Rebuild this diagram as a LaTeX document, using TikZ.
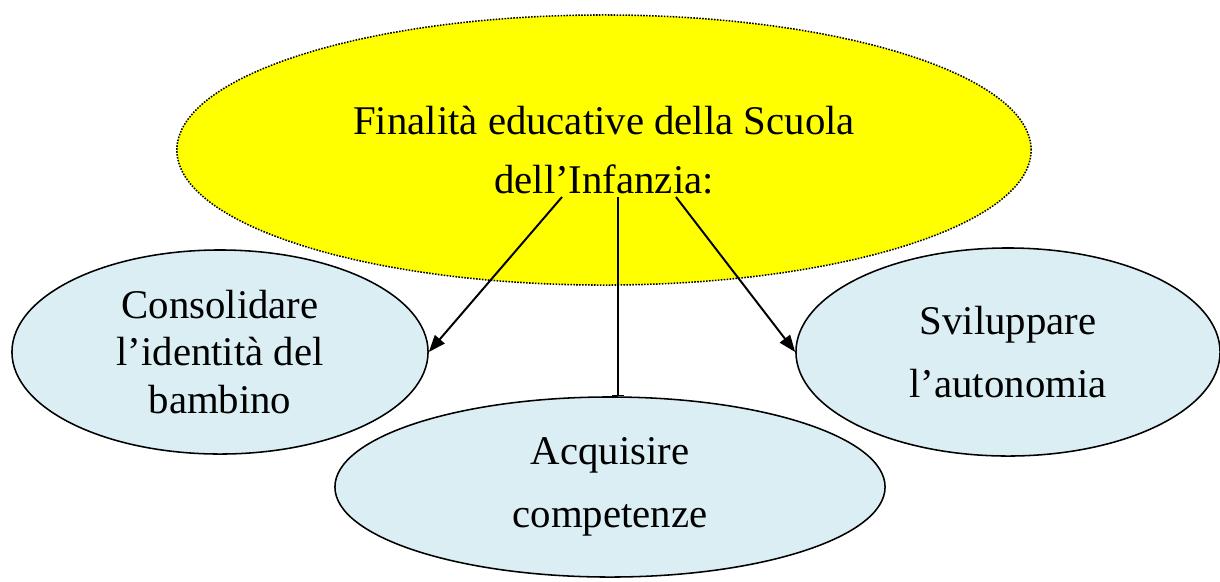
\documentclass[tikz,border=0pt]{standalone}
\usepackage{fontspec}
\setmainfont{Liberation Serif}
\usetikzlibrary{shapes.geometric,arrows.meta}

\definecolor{paleblue}{HTML}{DAEEF3}
\definecolor{goalyellow}{HTML}{FFFF00}
\tikzset{
  bubble/.style={ellipse, draw, line width=1.1pt, fill=paleblue, inner sep=0pt, align=center,
                 font=\fontsize{29}{33.5}\selectfont},
  goal/.style={ellipse, draw, densely dotted, line width=1.1pt, fill=goalyellow, inner sep=0pt,
               align=center, font=\fontsize{29}{33.5}\selectfont},
  link/.style={line width=1.4pt}
}

\begin{document}
\begin{tikzpicture}[x=0.025cm,y=-0.025cm]
   \useasboundingbox (0,0) rectangle (1220,581);
   \node[goal, minimum width=21.35cm, minimum height=6.75cm] (fin) at (604,150)
        {Finalità educative della Scuola\\[9pt] dell’Infanzia:};
   \node[bubble, minimum width=10.4cm, minimum height=5.1cm] (cons) at (220,352)
        {Consolidare\\ l’identità del\\ bambino};
   \node[bubble, minimum width=10.6cm, minimum height=5.2cm] (svil) at (1008,352)
        {Sviluppare\\[11pt] l’autonomia};
   \node[bubble, minimum width=13.75cm, minimum height=4.5cm] (acq) at (610,487)
        {Acquisire\\[11pt] competenze};
   \coordinate (fin_l) at (562,197);
   \coordinate (fin_c) at (618,197);
   \coordinate (fin_r) at (676,197);
    \path[link]
    (fin_l) edge [-{Triangle[length=12pt,width=9pt]}] (cons.east)
    (fin_c) edge [-{Bar[width=8pt,line width=0.8pt]}] (fin_c |- acq.north)
    (fin_r) edge [-{Triangle[length=12pt,width=9pt]}] (svil.west);

\end{tikzpicture}
\end{document}
